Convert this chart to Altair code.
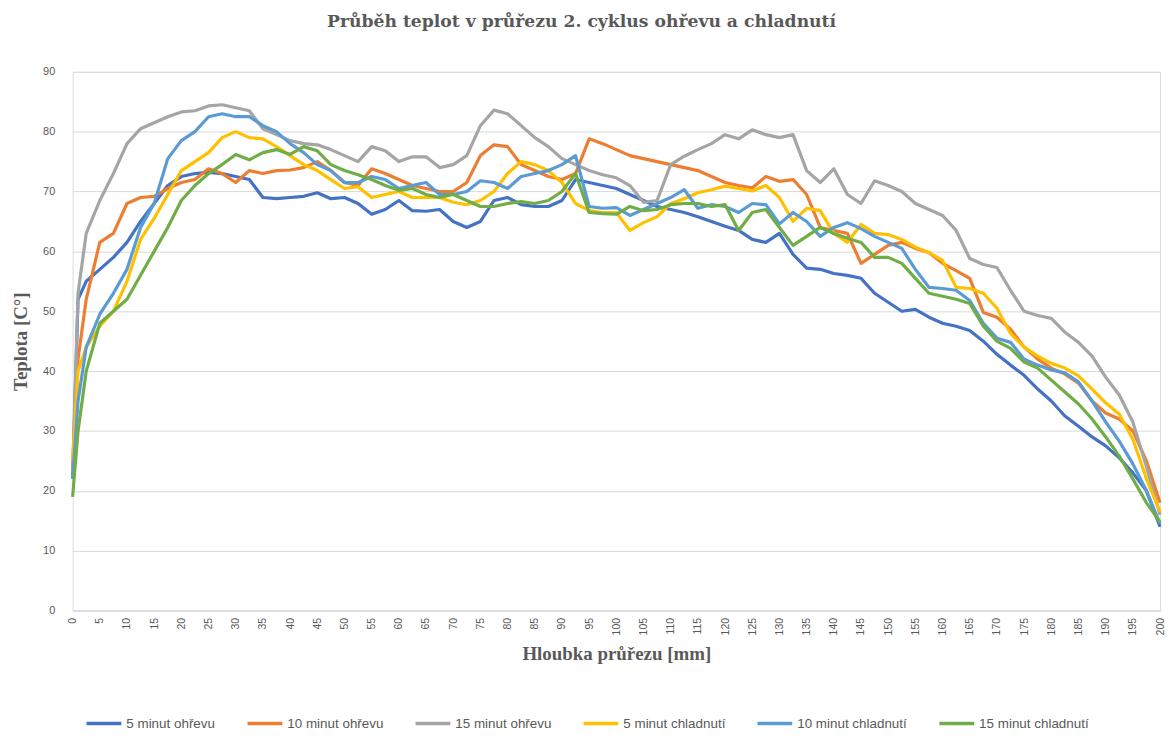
import altair as alt
import pandas as pd

x_mm = [0, 1, 2.5, 5, 7.5, 10, 12.5, 15, 17.5, 20,
        22.5, 25, 27.5, 30, 32.5, 35, 37.5, 40, 42.5, 45,
        47.5, 50, 52.5, 55, 57.5, 60, 62.5, 65, 67.5, 70,
        72.5, 75, 77.5, 80, 82.5, 85, 87.5, 90, 92.5, 95,
        97.5, 100, 102.5, 105, 107.5, 110, 112.5, 115, 117.5, 120,
        122.5, 125, 127.5, 130, 132.5, 135, 137.5, 140, 142.5, 145,
        147.5, 150, 152.5, 155, 157.5, 160, 162.5, 165, 167.5, 170,
        172.5, 175, 177.5, 180, 182.5, 185, 187.5, 190, 192.5, 195,
        197.5, 200]

ohrev_5 = [22, 52, 55, 57, 59, 61.5, 65, 68, 71, 72.5,
           73, 73.2, 73, 72.5, 72, 69, 68.8, 69, 69.2, 69.8,
           68.8, 69, 68, 66.2, 67, 68.5, 66.8, 66.7, 67, 65,
           64, 65, 68.5, 69, 67.8, 67.5, 67.5, 68.5, 72, 71.5,
           71, 70.5, 69.5, 68.5, 67.5, 67, 66.5, 65.8, 65, 64.2,
           63.5, 62, 61.5, 63, 59.5, 57.2, 57, 56.3, 56, 55.5,
           53, 51.5, 50, 50.3, 49, 48, 47.5, 46.8, 45, 42.8,
           41, 39.3, 37, 35, 32.5, 30.8, 29, 27.5, 25.5, 23,
           20, 14]

ohrev_10 = [23, 42, 52, 61.5, 63, 68, 69, 69.2, 70.5, 71.5,
            72, 73.8, 73, 71.5, 73.5, 73, 73.5, 73.6, 74, 75,
            73.5, 71.5, 71, 73.8, 73, 72, 71, 70.5, 70, 70,
            71.5, 76, 77.8, 77.5, 74.5, 73.5, 72.5, 72, 73, 78.8,
            78, 77, 76, 75.5, 75, 74.5, 74, 73.5, 72.5, 71.5,
            71, 70.6, 72.5, 71.7, 72, 69.5, 64, 63.5, 63, 58,
            59.5, 61, 61.5, 60.5, 59.8, 58, 56.8, 55.5, 49.8, 49,
            47, 44, 42, 40.5, 39.5, 38, 35, 33, 32, 30,
            25, 18]

ohrev_15 = [23, 53, 63, 68.5, 73, 78, 80.5, 81.5, 82.5, 83.3,
            83.5, 84.3, 84.5, 84, 83.5, 80.5, 79.5, 78.5, 78, 77.8,
            77, 76, 75, 77.5, 76.8, 75, 75.8, 75.8, 74, 74.5,
            76, 81, 83.6, 83, 81, 79, 77.5, 75.5, 74.5, 73.5,
            72.8, 72.3, 71, 68.2, 68.5, 74.5, 75.9, 77, 78, 79.5,
            78.8, 80.3, 79.5, 79, 79.5, 73.5, 71.5, 73.8, 69.5, 68,
            71.8, 71, 70, 68, 67, 66, 63.5, 58.8, 57.8, 57.3,
            53.5, 50, 49.3, 48.8, 46.5, 44.8, 42.5, 39, 36, 31.5,
            24, 16]

chlad_5 = [25, 40, 44, 47.5, 50, 55, 62, 65.5, 69.5, 73.5,
           75, 76.5, 79, 80, 79, 78.8, 77.5, 76, 74.5, 73.5,
           72, 70.5, 70.8, 69, 69.5, 70, 69, 69, 69, 68.2,
           67.8, 68.5, 70, 73, 75, 74.5, 73.5, 71.5, 68, 66.8,
           66.5, 66.5, 63.5, 64.8, 65.8, 68, 68.8, 69.8, 70.3, 70.9,
           70.5, 70.1, 71, 69, 65, 67.2, 66.8, 63, 61.5, 64.5,
           63, 62.8, 62, 60.7, 59.8, 58.5, 54, 53.8, 53, 50.5,
           46.3, 44, 42.5, 41.3, 40.5, 39.2, 37, 34.7, 32.8, 28.6,
           22, 16.5]

chlad_10 = [22, 35, 44, 49.5, 53, 57, 64, 68, 75.5, 78.5,
            80, 82.5, 83, 82.5, 82.5, 81, 80, 78, 76.5, 74.5,
            73.5, 71.5, 71.5, 72.5, 72, 70.5, 71, 71.5, 69.5, 69.5,
            70, 71.8, 71.5, 70.5, 72.5, 73, 73.5, 74.5, 76, 67.5,
            67.2, 67.3, 66, 67, 68, 69, 70.3, 67.2, 67.8, 67.5,
            66.5, 68, 67.8, 64.6, 66.5, 65, 62.5, 64, 64.8, 63.8,
            62.5, 61.5, 60.5, 57, 54, 53.8, 53.5, 51.8, 48, 45.5,
            44.8, 42, 41, 40.2, 39.7, 38.2, 35, 31.5, 28.3, 24.5,
            20, 14.5]

chlad_15 = [19, 30, 40, 48, 50, 52, 56, 60, 64, 68.5,
            71, 73, 74.5, 76.2, 75.3, 76.5, 77, 76.2, 77.5, 76.8,
            74.5, 73.5, 72.8, 72, 71, 70.2, 70.5, 69.5, 69, 69.5,
            68.5, 67.5, 67.5, 68, 68.3, 68, 68.5, 70, 73, 66.5,
            66.3, 66.2, 67.5, 66.8, 67, 67.8, 68, 68, 67.5, 67.8,
            63.5, 66.5, 67, 64, 61, 62.5, 64, 63, 62.2, 61.5,
            59, 59, 58, 55.5, 53, 52.5, 52, 51.3, 47.5, 45,
            43.8, 41.5, 40.5, 38.5, 36.5, 34.5, 32, 29, 25.8, 22,
            18, 14.8]

series_names = ["5 minut ohřevu", "10 minut ohřevu", "15 minut ohřevu",
                "5 minut chladnutí", "10 minut chladnutí", "15 minut chladnutí"]
series_colors = ["#4472C4", "#ED7D31", "#A5A5A5", "#FFC000", "#5B9BD5", "#70AD47"]
series_values = [ohrev_5, ohrev_10, ohrev_15, chlad_5, chlad_10, chlad_15]

x_ticks = [0, 5, 10, 15, 20, 25, 30, 35, 40, 45, 50, 55, 60, 65, 70, 75, 80, 85, 90, 95,
           100, 105, 110, 115, 120, 125, 130, 135, 140, 145, 150, 155, 160, 165, 170, 175,
           180, 185, 190, 195, 200]
y_ticks = [0, 10, 20, 30, 40, 50, 60, 70, 80, 90]

rows = []
for order, (name, vals) in enumerate(zip(series_names, series_values)):
    assert len(vals) == len(x_mm), (name, len(vals))
    for xv, yv in zip(x_mm, vals):
        rows.append({"x": xv, "t": yv, "serie": name, "o": order})
df = pd.DataFrame(rows)

gray = "#595959"

chart = alt.Chart(df).mark_line(strokeWidth=3.2, strokeJoin="round").encode(
    x=alt.X("x:Q",
            scale=alt.Scale(domain=[0, 200], nice=False, zero=False),
            axis=alt.Axis(values=x_ticks, labelAngle=270, labelAlign="right",
                          labelBaseline="middle", labelPadding=7,
                          labelFont="Liberation Sans", labelFontSize=10.5,
                          labelColor=gray, grid=False, ticks=False,
                          domainColor="#D9D9D9", domainWidth=1,
                          title="Hloubka průřezu [mm]", titleFont="Liberation Serif",
                          titleFontSize=19, titleFontWeight="bold", titleColor=gray,
                          titlePadding=10, labelOverlap=False)),
    y=alt.Y("t:Q",
            scale=alt.Scale(domain=[0, 90], nice=False),
            axis=alt.Axis(values=y_ticks, grid=True, gridColor="#D9D9D9", gridWidth=1,
                          domain=False, ticks=False, labelPadding=18,
                          labelFont="Liberation Sans", labelFontSize=11, labelColor=gray,
                          title="Teplota [C°]", titleFont="Liberation Serif",
                          titleFontSize=19, titleFontWeight="bold", titleColor=gray,
                          titlePadding=12)),
    color=alt.Color("serie:N",
                    scale=alt.Scale(domain=series_names, range=series_colors),
                    legend=alt.Legend(orient="none", legendX=12, legendY=636,
                                      direction="horizontal", title=None,
                                      symbolType="stroke", symbolSize=1225,
                                      symbolStrokeWidth=3.5, labelFont="Liberation Sans",
                                      labelFontSize=13.5, labelColor=gray,
                                      columnPadding=25, labelOffset=3)),
    order=alt.Order("o:Q"),
).properties(
    width=1094,
    height=542,
    title=alt.TitleParams("Průběh teplot v průřezu 2. cyklus ohřevu a chladnutí",
                          font="DejaVu Serif", fontSize=17.3, fontWeight="bold",
                          color=gray, anchor="middle", dx=-35, offset=36),
    autosize=alt.AutoSizeParams(type="none"),
    padding={"left": 65, "top": 62, "right": 5, "bottom": 120},
).configure_view(stroke=None).configure(background="white")

chart.save("out.html", embed_options={"renderer": "svg", "actions": False})
